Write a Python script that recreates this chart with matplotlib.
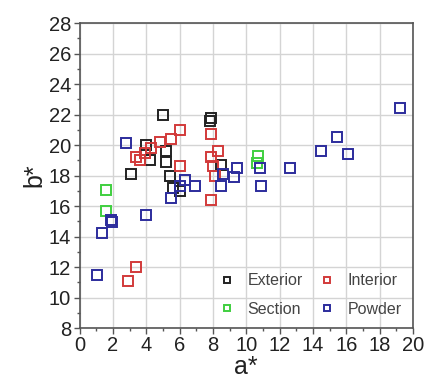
import matplotlib
matplotlib.use("Agg")
import matplotlib.pyplot as plt
from matplotlib.ticker import MultipleLocator

plt.rcParams['font.family'] = ['Liberation Sans', 'DejaVu Sans']

# CIELAB a*/b* coordinates per sample group
exterior_a = [5.0, 7.8, 7.9, 4.0, 5.2, 4.2, 5.2, 3.1, 5.4, 5.6, 6.0, 8.5]
exterior_b = [22.0, 21.6, 21.75, 20.0, 19.6, 19.0, 18.9, 18.1, 18.0, 17.2, 17.0, 18.7]

interior_a = [6.0, 5.5, 4.8, 4.3, 3.9, 3.4, 3.6, 6.0, 7.9, 8.3, 7.9, 8.0, 8.1, 7.9, 2.9, 3.4]
interior_b = [21.0, 20.4, 20.2, 19.8, 19.5, 19.2, 19.0, 18.6, 20.7, 19.6, 19.2, 18.6, 18.0, 16.4, 11.1, 12.0]

section_a = [1.6, 1.6, 10.7, 10.65]
section_b = [17.05, 15.7, 19.3, 18.8]

powder_a = [1.07, 1.33, 1.9, 1.95, 4.0, 5.5, 6.05, 6.3, 6.9, 2.8, 8.6, 9.45, 9.25,
            8.5, 10.8, 10.9, 12.65, 14.5, 15.45, 16.1, 19.25]
powder_b = [11.5, 14.2, 15.1, 14.95, 15.4, 16.5, 17.3, 17.7, 17.3, 20.1, 18.1, 18.47,
            17.9, 17.3, 18.47, 17.3, 18.47, 19.6, 20.5, 19.4, 22.45]

groups = [
    ("Exterior", exterior_a, exterior_b, "#222222"),
    ("Interior", interior_a, interior_b, "#d23a3a"),
    ("Section", section_a, section_b, "#3fcf3f"),
    ("Powder", powder_a, powder_b, "#2c2c9c"),
]

fig = plt.figure(figsize=(4.24, 3.81), dpi=100)
ax = fig.add_axes([0.1875, 0.139, 0.7865, 0.8006])

for name, xa, yb, col in groups:
    ax.plot(xa, yb, linestyle="none", marker="s", markersize=6.8,
            markerfacecolor="none", markeredgecolor=col, markeredgewidth=1.4,
            label=name)

ax.set_xlim(0, 20)
ax.set_ylim(8, 28)
ax.xaxis.set_major_locator(MultipleLocator(2))
ax.xaxis.set_minor_locator(MultipleLocator(1))
ax.yaxis.set_major_locator(MultipleLocator(2))
ax.yaxis.set_minor_locator(MultipleLocator(1))
ax.grid(True, which="major", color="#d4d4d4", linewidth=1.0)
ax.set_axisbelow(True)

for s in ax.spines.values():
    s.set_color("#555555")
    s.set_linewidth(1.2)

ax.tick_params(which="major", direction="out", length=4, width=1.0,
               colors="#555555", labelsize=14.5, labelcolor="#222222", pad=2)
ax.tick_params(which="minor", direction="out", length=2, width=1.0, colors="#555555")

ax.set_xlabel("a*", fontsize=18, color="#222222", labelpad=0)
ax.set_ylabel("b*", fontsize=18, color="#222222", labelpad=2)

# Legend order: Exterior, Section | Interior, Powder
handles, labels = ax.get_legend_handles_labels()
order = [0, 2, 1, 3]
leg = ax.legend([handles[i] for i in order], [labels[i] for i in order],
                ncol=2, loc="lower right", bbox_to_anchor=(1.0, 0.0),
                frameon=False, fontsize=11.5, markerscale=0.6,
                handletextpad=0.7, columnspacing=0.9, labelspacing=0.85,
                handlelength=1.2, borderaxespad=0.3)
for t in leg.get_texts():
    t.set_color("#444444")

fig.savefig("out.png", dpi=100)
